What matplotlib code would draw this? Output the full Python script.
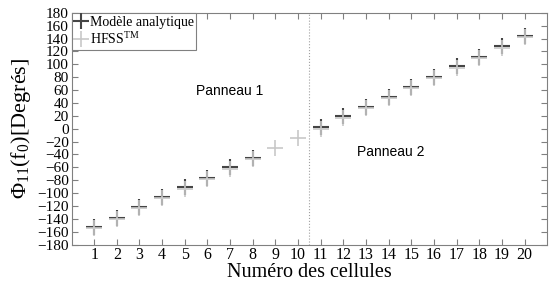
import numpy as np
import matplotlib.pyplot as plt

plt.rcParams["font.family"] = "Liberation Serif"
plt.rcParams["mathtext.fontset"] = "custom"
plt.rcParams["mathtext.rm"] = "Liberation Serif"
plt.rcParams["mathtext.it"] = "Liberation Serif"

cells = np.arange(1, 21)
hfss = [-155, -140, -123, -108, -93, -78, -62, -47, -30, -15,
        0, 17, 32, 48, 63, 79, 95, 110, 126, 142]
# modele analytique (pas de valeur pour les cellules 9 et 10)
model_cells = [1, 2, 3, 4, 5, 6, 7, 8, 11, 12, 13, 14, 15, 16, 17, 18, 19, 20]
model = [-153, -138, -121, -106, -91, -76, -60, -45,
         2, 19, 34, 50, 65, 81, 97, 112, 128, 144]

fig, ax = plt.subplots(figsize=(5.5, 2.86), dpi=100)
ax.plot(model_cells, model, ls="none", marker="+", ms=11, mew=1.5,
        color="#454545", label="Modèle analytique")
ax.plot(cells, hfss, ls="none", marker="+", ms=12, mew=1.2,
        color="#c8c8c8", label="HFSS$^{\\mathrm{TM}}$")
ax.axvline(10.5, color="#a0a0a0", ls=":", lw=0.8)

ax.text(5.5, 59, "Panneau 1", family="Liberation Sans", fontsize=10, va="center")
ax.text(12.6, -36, "Panneau 2", family="Liberation Sans", fontsize=10, va="center")

ax.set_xlim(0, 21)
ax.set_ylim(-180, 180)
ax.set_xticks(cells)
ax.set_yticks(np.arange(-180, 181, 20))
ax.tick_params(direction="in", top=True, right=True, length=4,
               color="#808080", pad=2)
ax.tick_params(axis="x", labelsize=11.5)
ax.tick_params(axis="y", labelsize=11)
ax.set_xlabel("Numéro des cellules", fontsize=14.5, labelpad=0)
ax.set_ylabel("$\\mathrm{\\Phi_{11}(f_0)[Degrés]}$", fontsize=16, labelpad=3)
for s in ax.spines.values():
    s.set_color("#808080")
    s.set_linewidth(0.8)

leg = ax.legend(loc="upper left", fontsize=10, handlelength=1.0, handletextpad=0.1,
                borderaxespad=0, borderpad=0.2, labelspacing=0.2, fancybox=False,
                framealpha=1)
leg.get_frame().set_edgecolor("#808080")
leg.get_frame().set_linewidth(0.8)

fig.subplots_adjust(left=0.13, right=0.995, top=0.955, bottom=0.145)
fig.savefig("out.png")
